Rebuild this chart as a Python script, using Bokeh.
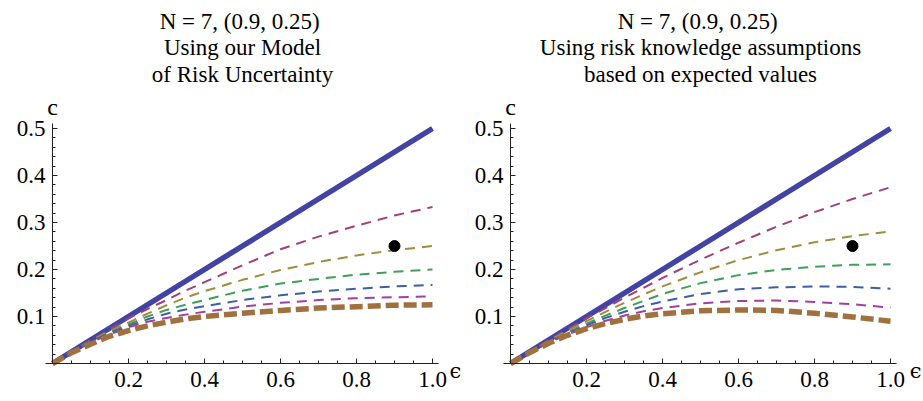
from bokeh.plotting import figure
from bokeh.models import Range1d, FixedTicker, PrintfTickFormatter, Label
from bokeh.layouts import row
from bokeh.embed import file_html
from bokeh.resources import INLINE

# ---- data ----
eps = [0, 0.05, 0.1, 0.15, 0.2, 0.25, 0.3, 0.35, 0.4, 0.5, 0.6, 0.7, 0.8, 0.9, 1.0]
diag = [0, 0.025, 0.05, 0.075, 0.1, 0.125, 0.15, 0.175, 0.2, 0.25, 0.3, 0.35, 0.4, 0.45, 0.5]

left_1 = [0, 0.025, 0.049, 0.073, 0.096, 0.116, 0.135, 0.155, 0.173, 0.209, 0.243, 0.270, 0.293, 0.315, 0.333]
left_2 = [0, 0.025, 0.048, 0.069, 0.087, 0.106, 0.124, 0.140, 0.154, 0.178, 0.199, 0.216, 0.230, 0.241, 0.250]
left_3 = [0, 0.025, 0.047, 0.066, 0.083, 0.100, 0.114, 0.125, 0.135, 0.155, 0.170, 0.180, 0.189, 0.195, 0.200]
left_4 = [0, 0.025, 0.046, 0.064, 0.080, 0.094, 0.106, 0.115, 0.122, 0.135, 0.145, 0.153, 0.159, 0.164, 0.167]
left_5 = [0, 0.025, 0.045, 0.062, 0.077, 0.089, 0.097, 0.104, 0.110, 0.121, 0.129, 0.135, 0.139, 0.141, 0.143]
left_6 = [0, 0.023, 0.041, 0.058, 0.070, 0.080, 0.088, 0.095, 0.100, 0.107, 0.113, 0.118, 0.121, 0.124, 0.125]

right_1 = [0, 0.025, 0.049, 0.073, 0.096, 0.118, 0.140, 0.161, 0.182, 0.221, 0.257, 0.291, 0.322, 0.350, 0.375]
right_2 = [0, 0.024, 0.048, 0.070, 0.090, 0.110, 0.129, 0.147, 0.164, 0.194, 0.220, 0.241, 0.258, 0.271, 0.281]
right_3 = [0, 0.024, 0.046, 0.066, 0.085, 0.102, 0.118, 0.133, 0.148, 0.171, 0.188, 0.199, 0.206, 0.210, 0.211]
right_4 = [0, 0.024, 0.045, 0.064, 0.081, 0.097, 0.110, 0.122, 0.132, 0.148, 0.158, 0.162, 0.164, 0.163, 0.159]
right_5 = [0, 0.024, 0.044, 0.062, 0.077, 0.091, 0.102, 0.111, 0.118, 0.128, 0.133, 0.134, 0.131, 0.126, 0.119]
right_6 = [0, 0.023, 0.043, 0.060, 0.074, 0.085, 0.094, 0.101, 0.106, 0.112, 0.114, 0.113, 0.107, 0.099, 0.090]

point_x = [0.9]
point_y = [0.25]

x_ticks = [0.2, 0.4, 0.6, 0.8, 1.0]
y_ticks = [0.1, 0.2, 0.3, 0.4, 0.5]

left_title = ["N = 7,  (0.9, 0.25)", "Using our Model", "of Risk Uncertainty"]
right_title = ["N = 7,  (0.9, 0.25)", "Using risk knowledge assumptions", "based on expected values"]

# ---- styling ----
SERIF = "Liberation Serif"
DIAG_COLOR = "#4343a3"
CURVE_COLORS = ["#a23f7a", "#a08c3e", "#3f9f57", "#3f5fa2", "#a03fa0"]
BROWN = "#a0713f"
PX_X = 380.0   # pixels per unit on x
PX_Y = 470.0   # pixels per unit on y
HEIGHT = 401
ORIGIN_Y = 363  # pixel row of c = 0


def make_panel(curves, title_lines, width, origin_x, eps_label_x):
    x0 = -origin_x / PX_X
    x1 = x0 + width / PX_X
    y0 = -(HEIGHT - ORIGIN_Y) / PX_Y
    y1 = ORIGIN_Y / PX_Y
    p = figure(width=width, height=HEIGHT, output_backend="svg", toolbar_location=None,
               x_range=Range1d(x0, x1), y_range=Range1d(y0, y1),
               min_border=0, min_border_left=0, min_border_right=0,
               min_border_top=0, min_border_bottom=0)
    p.outline_line_color = None
    p.grid.visible = False
    p.background_fill_color = "white"
    p.border_fill_color = "white"

    for ax in (p.xaxis[0], p.yaxis[0]):
        ax.fixed_location = 0
        ax.axis_line_color = "#222222"
        ax.axis_line_width = 1
        ax.major_tick_line_color = "#222222"
        ax.minor_tick_line_color = "#222222"
        ax.major_tick_in = 5
        ax.major_tick_out = 0
        ax.minor_tick_in = 3
        ax.minor_tick_out = 0
        ax.major_label_text_font = SERIF
        ax.major_label_text_font_size = "23px"
        ax.major_label_text_color = "black"
        ax.formatter = PrintfTickFormatter(format="%.1f")
    p.xaxis[0].ticker = FixedTicker(ticks=x_ticks, minor_ticks=[i * 0.05 for i in range(21)])
    p.yaxis[0].ticker = FixedTicker(ticks=y_ticks, minor_ticks=[i * 0.02 for i in range(26)])
    p.xaxis[0].bounds = (-0.018, 1.016)
    p.yaxis[0].bounds = (0, 0.511)
    p.xaxis[0].major_label_standoff = 8
    p.yaxis[0].major_label_standoff = 7

    p.line(eps, diag, line_color=DIAG_COLOR, line_width=5.5)
    for ys, col in zip(curves[:5], CURVE_COLORS):
        p.line(eps, ys, line_color=col, line_width=2, line_dash="10 7")
    p.line(eps, curves[5], line_color=BROWN, line_width=5.5, line_dash="13 5")
    p.scatter(point_x, point_y, size=11, color="black")

    # title lines (baselines at pixel rows ~21, 47, 74)
    for txt, yy in zip(title_lines, [0.7277, 0.6723, 0.6149]):
        p.add_layout(Label(x=0.5, y=yy, text=txt, text_align="center", text_baseline="alphabetic",
                           text_font=SERIF, text_font_size="23px", text_color="black"))
    p.add_layout(Label(x=0, y=0.5447, text="c", text_align="center", text_baseline="alphabetic",
                       text_font=SERIF, text_font_size="24px", text_color="black"))
    p.add_layout(Label(x=eps_label_x, y=-0.0149, text="ϵ", text_align="center",
                       text_baseline="alphabetic",
                       text_font="DejaVu Serif", text_font_size="21px", text_color="black"))
    return p


p1 = make_panel([left_1, left_2, left_3, left_4, left_5, left_6], left_title, 466, 52, 1.0605)
p2 = make_panel([right_1, right_2, right_3, right_4, right_5, right_6], right_title, 457, 44, 1.066)

layout = row(p1, p2)
open("out.html", "w").write(file_html(layout, INLINE))
